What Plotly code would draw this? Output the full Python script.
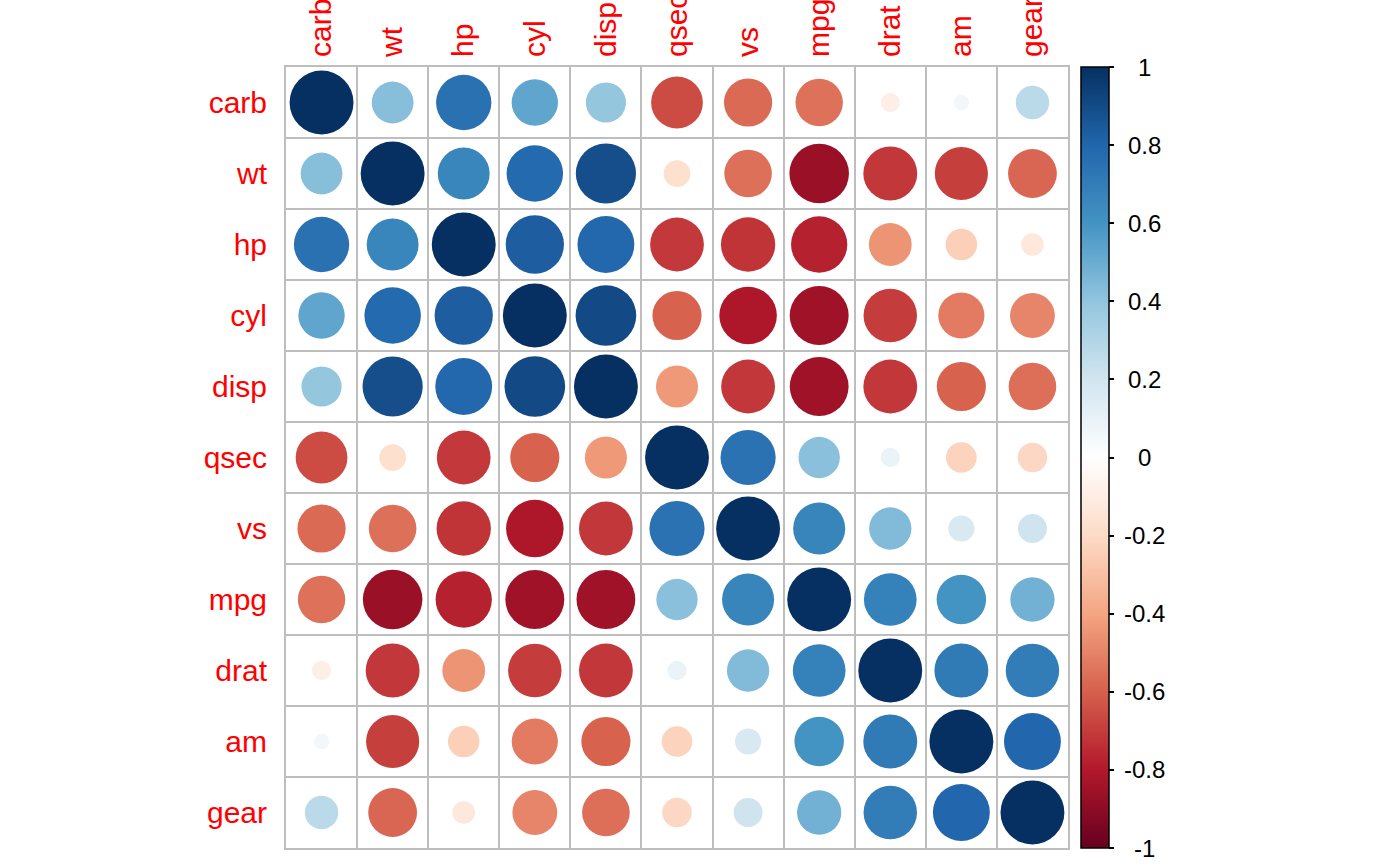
import plotly.graph_objects as go

variables = ["carb", "wt", "hp", "cyl", "disp", "qsec", "vs", "mpg", "drat", "am", "gear"]

# correlation matrix rows in the same order as `variables`
corr = [
    [1.000, 0.428, 0.750, 0.527, 0.395, -0.656, -0.570, -0.551, -0.091, 0.058, 0.274],
    [0.428, 1.000, 0.659, 0.782, 0.888, -0.175, -0.555, -0.868, -0.712, -0.692, -0.583],
    [0.750, 0.659, 1.000, 0.832, 0.791, -0.708, -0.723, -0.776, -0.449, -0.243, -0.126],
    [0.527, 0.782, 0.832, 1.000, 0.902, -0.591, -0.811, -0.852, -0.700, -0.523, -0.493],
    [0.395, 0.888, 0.791, 0.902, 1.000, -0.434, -0.710, -0.848, -0.710, -0.591, -0.556],
    [-0.656, -0.175, -0.708, -0.591, -0.434, 1.000, 0.745, 0.419, 0.091, -0.230, -0.213],
    [-0.570, -0.555, -0.723, -0.811, -0.710, 0.745, 1.000, 0.664, 0.440, 0.168, 0.206],
    [-0.551, -0.868, -0.776, -0.852, -0.848, 0.419, 0.664, 1.000, 0.681, 0.600, 0.480],
    [-0.091, -0.712, -0.449, -0.700, -0.710, 0.091, 0.440, 0.681, 1.000, 0.713, 0.700],
    [0.058, -0.692, -0.243, -0.523, -0.591, -0.230, 0.168, 0.600, 0.713, 1.000, 0.794],
    [0.274, -0.583, -0.126, -0.493, -0.556, -0.213, 0.206, 0.480, 0.700, 0.794, 1.000],
]

colorbar_ticks = [-1, -0.8, -0.6, -0.4, -0.2, 0, 0.2, 0.4, 0.6, 0.8, 1]

rdbu = ["#67001F", "#B2182B", "#D6604D", "#F4A582", "#FDDBC7", "#FFFFFF",
        "#D1E5F0", "#92C5DE", "#4393C3", "#2166AC", "#053061"]
colorscale = [[i / (len(rdbu) - 1), c] for i, c in enumerate(rdbu)]

n = len(variables)
W, H = 1400, 866
L, R, T, B = 286, 332, 67, 18
plot_w = W - L - R
plot_h = H - T - B
cell = plot_h / n
max_d = 0.9 * cell

xs, ys, vals, sizes = [], [], [], []
for i in range(n):
    for j in range(n):
        v = corr[i][j]
        xs.append(j)
        ys.append(i)
        vals.append(v)
        sizes.append(max_d * abs(v) ** 0.5)

fig = go.Figure(go.Scatter(
    x=xs, y=ys, mode="markers",
    marker=dict(
        size=sizes, sizemode="diameter", color=vals, colorscale=colorscale,
        cmin=-1, cmax=1, line=dict(width=0), opacity=1,
        colorbar=dict(
            tickvals=colorbar_ticks, showticklabels=False,
            thickness=28, len=1, lenmode="fraction", y=0.5, yanchor="middle",
            x=(1081 - L) / plot_w, xanchor="left", xpad=0, ypad=0,
            outlinewidth=1.5, outlinecolor="black",
            ticks="outside", ticklen=5, tickcolor="black", tickwidth=1.5,
        ),
    ),
    hoverinfo="skip", showlegend=False,
))

# colour-legend labels, centred like corrplot's
for t in colorbar_ticks:
    fig.add_annotation(
        x=(1144 - L) / plot_w, xref="paper", xanchor="center",
        y=(t + 1) / 2, yref="paper", yanchor="middle",
        text="%g" % t, showarrow=False,
        font=dict(family="Liberation Sans, Arial", size=24, color="black"),
    )

half = [k - 0.5 for k in range(n + 1)]
axis_font = dict(family="Liberation Sans, Arial", size=30, color="red")
grid_col = "#BEBEBE"

fig.update_xaxes(
    range=[-0.5, n - 0.5], side="top", tickvals=list(range(n)), ticktext=variables,
    tickangle=-90, tickfont=axis_font, showgrid=False, zeroline=False,
    ticks="", ticklabelstandoff=2,
    minor=dict(tickvals=half, showgrid=True, gridcolor=grid_col, gridwidth=2, ticks=""),
    showline=True, mirror=True, linecolor=grid_col, linewidth=2, fixedrange=True,
)
fig.update_yaxes(
    range=[n - 0.5, -0.5], tickvals=list(range(n)), ticktext=variables,
    tickfont=axis_font, showgrid=False, zeroline=False, ticks="",
    ticklabelstandoff=11,
    minor=dict(tickvals=half, showgrid=True, gridcolor=grid_col, gridwidth=2, ticks=""),
    showline=True, mirror=True, linecolor=grid_col, linewidth=2, fixedrange=True,
)

fig.update_layout(
    width=W, height=H, margin=dict(l=L, r=R, t=T, b=B, autoexpand=False),
    paper_bgcolor="white", plot_bgcolor="white",
)

fig.write_html("out.html")
